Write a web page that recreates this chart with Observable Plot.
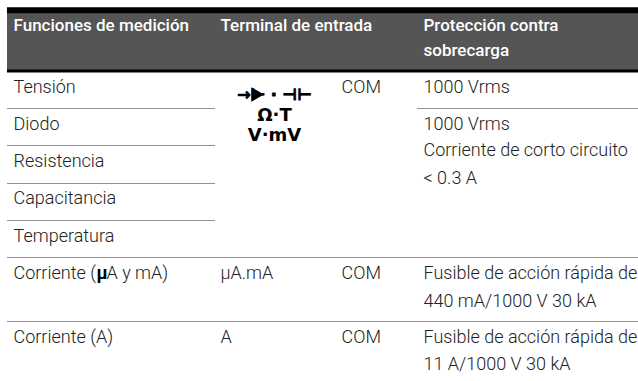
<!DOCTYPE html>
<html><head><meta charset="utf-8">
<style>html,body{margin:0;padding:0;background:#fff}svg{display:block}</style>
<script src="https://cdn.jsdelivr.net/npm/d3@7"></script>
<script src="https://cdn.jsdelivr.net/npm/@observablehq/plot@0.6"></script>
</head><body><div id="c"></div>
<script>
const headers = [
  ["func","h1","Funciones de medición"],
  ["term","h1","Terminal de entrada"],
  ["prot","h1","Protección contra"],
  ["prot","h2","sobrecarga"]
];
const cells = [
  ["func","r1","Tensión"],["com","r1","COM"],["prot","r1","1000 Vrms"],
  ["func","r2","Diodo"],["prot","r2","1000 Vrms"],
  ["prot","r2b","Corriente de corto circuito"],["prot","r2c","< 0.3 A"],
  ["func","r3","Resistencia"],["func","r4","Capacitancia"],["func","r5","Temperatura"],
  ["func","r6","Corriente ("],["micro2","r6","A y mA)"],["term","r6","µA.mA"],["com","r6","COM"],
  ["prot","r6","Fusible de acción rápida de"],["prot","r6b","440 mA/1000 V 30 kA"],
  ["func","r7","Corriente (A)"],["term","r7","A"],["com","r7","COM"],
  ["prot","r7","Fusible de acción rápida de"],["prot","r7b","11 A/1000 V 30 kA"]
];
const microCell = [["micro","r6","µ"]];
const symbolLine = [["sym","s1","→⊢ · ⊣⊢"]];
const diodeHead = [["diode","s1"]];
const terminals = [["sym","s2","Ω·T"],["sym","s3","V·mV"]];
const thinRules = [
  ["left","funcEnd","l1"],["protStart","right","l1"],
  ["left","funcEnd","l2"],["left","funcEnd","l3"],["left","funcEnd","l4"],
  ["left","right","l5"],["left","right","l6"]
];
const xKeys = ["left","func","micro","micro2","funcEnd","term","diode","sym","com","protStart","prot","right"];
const xPx =   [7,13,96,106,215,220,255,274,341,417,423,638];
const yKeys = ["top","h1","h2","bandBot","r1","s1","l1","r2","s2","s3","r2b","l2","r3","r2c","l3","r4","l4","r5","l5","r6","r6b","l6","r7","r7b"];
const yPx =   [7,  25,50,70,       87,94,  108,124,115,135,150,145,161,178,183,198,220,236,257,273,301,321,337,364];
const text = {fontFamily:"Roboto, sans-serif", frameAnchor:"middle", lineAnchor:"middle", textAnchor:"start"};
const ink = "#222";
document.getElementById("c").append(Plot.plot({
  width:638,height:381,margin:0,
  style:{background:"#fff"},
  x:{type:"ordinal",domain:xKeys,range:xPx,axis:null},
  y:{type:"ordinal",domain:yKeys,range:yPx,axis:null},
  marks:[
    Plot.rect([["left","right","top","bandBot"]],{x1:d=>d[0],x2:d=>d[1],y1:d=>d[2],y2:d=>d[3],fill:"#555",stroke:"none"}),
    Plot.ruleY(["top"],{y:d=>d,x1:()=>"left",x2:()=>"right",stroke:"#000",strokeWidth:5.5,dy:3}),
    Plot.ruleY(["bandBot"],{y:d=>d,x1:()=>"left",x2:()=>"right",stroke:"#000",strokeWidth:3,dy:0.5}),
    Plot.ruleY(thinRules,{y:d=>d[2],x1:d=>d[0],x2:d=>d[1],stroke:"#909090",strokeWidth:1}),
    Plot.text(headers,{...text,x:d=>d[0],y:d=>d[1],text:d=>d[2],fill:"#fff",fontWeight:500,fontSize:17}),
    Plot.text(cells,{...text,x:d=>d[0],y:d=>d[1],text:d=>d[2],fill:ink,fontWeight:300,fontSize:18}),
    Plot.text(microCell,{...text,x:d=>d[0],y:d=>d[1],text:d=>d[2],fill:"#000",fontWeight:700,fontSize:18}),
    Plot.text(symbolLine,{...text,textAnchor:"middle",fontFamily:"DejaVu Sans",x:d=>d[0],y:d=>d[1],text:d=>d[2],fill:"#000",stroke:"#000",strokeWidth:0.8,fontWeight:700,fontSize:16}),
    Plot.dot(diodeHead,{x:d=>d[0],y:d=>d[1],symbol:"triangle2",rotate:90,r:7,fill:"#000",stroke:"none"}),
    Plot.text(terminals,{...text,textAnchor:"middle",fontFamily:"DejaVu Sans",x:d=>d[0],y:d=>d[1],text:d=>d[2],fill:"#000",fontWeight:700,fontSize:18})
  ]
}));
</script></body></html>
